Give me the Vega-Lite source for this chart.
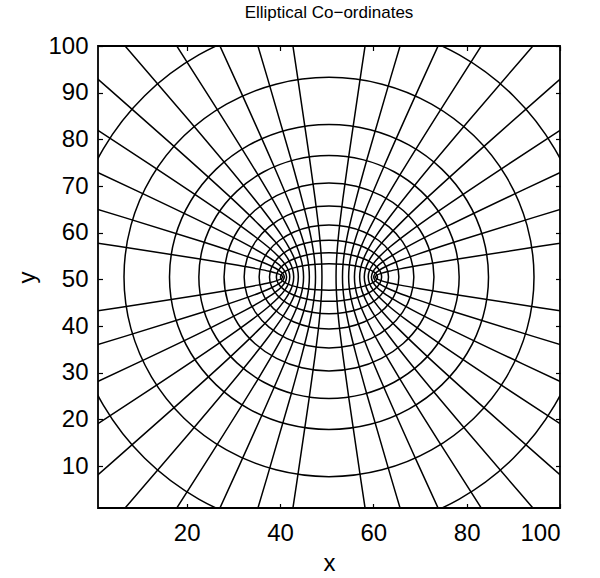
{
"$schema":"https://vega.github.io/schema/vega-lite/v6.json",
"width":462,"height":462,
"autosize":{"type":"none"},
"padding":{"left":98,"top":46,"right":40,"bottom":70},
"background":"white",
"title":{"text":"Elliptical Co−ordinates","font":"Liberation Sans","fontSize":17,"fontWeight":"normal","color":"black","anchor":"middle","frame":"group","baseline":"alphabetic","offset":10,"dy":11},
"config":{"view":{"stroke":"black","strokeWidth":1.8},"font":"Liberation Sans",
"axis":{"labelFont":"Liberation Sans","titleFont":"Liberation Sans","labelColor":"black","titleColor":"black","tickColor":"black","tickWidth":1.2,"grid":false,"domain":false,"labelFontSize":24,"titleFontSize":24,"titleFontWeight":"normal","tickSize":-4.5}},
"datasets":{
"hyp":[
{"h":"L1","o":-8,"x":-31.12,"y":38.39},{"h":"L1","o":-7,"x":5.32,"y":43.91},{"h":"L1","o":-6,"x":22.53,"y":46.59},{"h":"L1","o":-5,"x":31.01,"y":47.99},{"h":"L1","o":-4,"x":35.24,"y":48.76},{"h":"L1","o":-3,"x":37.7,"y":49.28},{"h":"L1","o":-2,"x":39.35,"y":49.73},{"h":"L1","o":-1,"x":40.3,"y":50.13},{"h":"L1","o":0,"x":40.61,"y":50.5},{"h":"L1","o":1,"x":40.3,"y":50.87},{"h":"L1","o":2,"x":39.35,"y":51.27},{"h":"L1","o":3,"x":37.7,"y":51.72},{"h":"L1","o":4,"x":35.24,"y":52.24},{"h":"L1","o":5,"x":31.01,"y":53.01},{"h":"L1","o":6,"x":22.53,"y":54.41},{"h":"L1","o":7,"x":5.32,"y":57.09},{"h":"L1","o":8,"x":-31.12,"y":62.61},
{"h":"R1","o":-8,"x":132.12,"y":38.39},{"h":"R1","o":-7,"x":95.68,"y":43.91},{"h":"R1","o":-6,"x":78.47,"y":46.59},{"h":"R1","o":-5,"x":69.99,"y":47.99},{"h":"R1","o":-4,"x":65.76,"y":48.76},{"h":"R1","o":-3,"x":63.3,"y":49.28},{"h":"R1","o":-2,"x":61.65,"y":49.73},{"h":"R1","o":-1,"x":60.7,"y":50.13},{"h":"R1","o":0,"x":60.39,"y":50.5},{"h":"R1","o":1,"x":60.7,"y":50.87},{"h":"R1","o":2,"x":61.65,"y":51.27},{"h":"R1","o":3,"x":63.3,"y":51.72},{"h":"R1","o":4,"x":65.76,"y":52.24},{"h":"R1","o":5,"x":69.99,"y":53.01},{"h":"R1","o":6,"x":78.47,"y":54.41},{"h":"R1","o":7,"x":95.68,"y":57.09},{"h":"R1","o":8,"x":132.12,"y":62.61},
{"h":"L2","o":-8,"x":-28.59,"y":27.1},{"h":"L2","o":-7,"x":6.72,"y":37.77},{"h":"L2","o":-6,"x":23.4,"y":42.94},{"h":"L2","o":-5,"x":31.61,"y":45.65},{"h":"L2","o":-4,"x":35.71,"y":47.14},{"h":"L2","o":-3,"x":38.09,"y":48.15},{"h":"L2","o":-2,"x":39.69,"y":49.01},{"h":"L2","o":-1,"x":40.62,"y":49.78},{"h":"L2","o":0,"x":40.92,"y":50.5},{"h":"L2","o":1,"x":40.62,"y":51.22},{"h":"L2","o":2,"x":39.69,"y":51.99},{"h":"L2","o":3,"x":38.09,"y":52.85},{"h":"L2","o":4,"x":35.71,"y":53.86},{"h":"L2","o":5,"x":31.61,"y":55.35},{"h":"L2","o":6,"x":23.4,"y":58.06},{"h":"L2","o":7,"x":6.72,"y":63.23},{"h":"L2","o":8,"x":-28.59,"y":73.9},
{"h":"R2","o":-8,"x":129.59,"y":27.1},{"h":"R2","o":-7,"x":94.28,"y":37.77},{"h":"R2","o":-6,"x":77.6,"y":42.94},{"h":"R2","o":-5,"x":69.39,"y":45.65},{"h":"R2","o":-4,"x":65.29,"y":47.14},{"h":"R2","o":-3,"x":62.91,"y":48.15},{"h":"R2","o":-2,"x":61.31,"y":49.01},{"h":"R2","o":-1,"x":60.38,"y":49.78},{"h":"R2","o":0,"x":60.08,"y":50.5},{"h":"R2","o":1,"x":60.38,"y":51.22},{"h":"R2","o":2,"x":61.31,"y":51.99},{"h":"R2","o":3,"x":62.91,"y":52.85},{"h":"R2","o":4,"x":65.29,"y":53.86},{"h":"R2","o":5,"x":69.39,"y":55.35},{"h":"R2","o":6,"x":77.6,"y":58.06},{"h":"R2","o":7,"x":94.28,"y":63.23},{"h":"R2","o":8,"x":129.59,"y":73.9},
{"h":"L3","o":-8,"x":-24.48,"y":16.27},{"h":"L3","o":-7,"x":9.0,"y":31.88},{"h":"L3","o":-6,"x":24.8,"y":39.45},{"h":"L3","o":-5,"x":32.59,"y":43.4},{"h":"L3","o":-4,"x":36.48,"y":45.59},{"h":"L3","o":-3,"x":38.74,"y":47.06},{"h":"L3","o":-2,"x":40.26,"y":48.32},{"h":"L3","o":-1,"x":41.13,"y":49.44},{"h":"L3","o":0,"x":41.41,"y":50.5},{"h":"L3","o":1,"x":41.13,"y":51.56},{"h":"L3","o":2,"x":40.26,"y":52.68},{"h":"L3","o":3,"x":38.74,"y":53.94},{"h":"L3","o":4,"x":36.48,"y":55.41},{"h":"L3","o":5,"x":32.59,"y":57.6},{"h":"L3","o":6,"x":24.8,"y":61.55},{"h":"L3","o":7,"x":9.0,"y":69.12},{"h":"L3","o":8,"x":-24.48,"y":84.73},
{"h":"R3","o":-8,"x":125.48,"y":16.27},{"h":"R3","o":-7,"x":92.0,"y":31.88},{"h":"R3","o":-6,"x":76.2,"y":39.45},{"h":"R3","o":-5,"x":68.41,"y":43.4},{"h":"R3","o":-4,"x":64.52,"y":45.59},{"h":"R3","o":-3,"x":62.26,"y":47.06},{"h":"R3","o":-2,"x":60.74,"y":48.32},{"h":"R3","o":-1,"x":59.87,"y":49.44},{"h":"R3","o":0,"x":59.59,"y":50.5},{"h":"R3","o":1,"x":59.87,"y":51.56},{"h":"R3","o":2,"x":60.74,"y":52.68},{"h":"R3","o":3,"x":62.26,"y":53.94},{"h":"R3","o":4,"x":64.52,"y":55.41},{"h":"R3","o":5,"x":68.41,"y":57.6},{"h":"R3","o":6,"x":76.2,"y":61.55},{"h":"R3","o":7,"x":92.0,"y":69.12},{"h":"R3","o":8,"x":125.48,"y":84.73},
{"h":"L4","o":-8,"x":-18.87,"y":6.12},{"h":"L4","o":-7,"x":12.1,"y":26.36},{"h":"L4","o":-6,"x":26.73,"y":36.17},{"h":"L4","o":-5,"x":33.93,"y":41.3},{"h":"L4","o":-4,"x":37.53,"y":44.13},{"h":"L4","o":-3,"x":39.62,"y":46.05},{"h":"L4","o":-2,"x":41.02,"y":47.68},{"h":"L4","o":-1,"x":41.83,"y":49.13},{"h":"L4","o":0,"x":42.09,"y":50.5},{"h":"L4","o":1,"x":41.83,"y":51.87},{"h":"L4","o":2,"x":41.02,"y":53.32},{"h":"L4","o":3,"x":39.62,"y":54.95},{"h":"L4","o":4,"x":37.53,"y":56.87},{"h":"L4","o":5,"x":33.93,"y":59.7},{"h":"L4","o":6,"x":26.73,"y":64.83},{"h":"L4","o":7,"x":12.1,"y":74.64},{"h":"L4","o":8,"x":-18.87,"y":94.88},
{"h":"R4","o":-8,"x":119.87,"y":6.12},{"h":"R4","o":-7,"x":88.9,"y":26.36},{"h":"R4","o":-6,"x":74.27,"y":36.17},{"h":"R4","o":-5,"x":67.07,"y":41.3},{"h":"R4","o":-4,"x":63.47,"y":44.13},{"h":"R4","o":-3,"x":61.38,"y":46.05},{"h":"R4","o":-2,"x":59.98,"y":47.68},{"h":"R4","o":-1,"x":59.17,"y":49.13},{"h":"R4","o":0,"x":58.91,"y":50.5},{"h":"R4","o":1,"x":59.17,"y":51.87},{"h":"R4","o":2,"x":59.98,"y":53.32},{"h":"R4","o":3,"x":61.38,"y":54.95},{"h":"R4","o":4,"x":63.47,"y":56.87},{"h":"R4","o":5,"x":67.07,"y":59.7},{"h":"R4","o":6,"x":74.27,"y":64.83},{"h":"R4","o":7,"x":88.9,"y":74.64},{"h":"R4","o":8,"x":119.87,"y":94.88},
{"h":"L5","o":-8,"x":-11.88,"y":-3.14},{"h":"L5","o":-7,"x":15.97,"y":21.32},{"h":"L5","o":-6,"x":29.12,"y":33.18},{"h":"L5","o":-5,"x":35.6,"y":39.38},{"h":"L5","o":-4,"x":38.84,"y":42.81},{"h":"L5","o":-3,"x":40.71,"y":45.12},{"h":"L5","o":-2,"x":41.98,"y":47.09},{"h":"L5","o":-1,"x":42.7,"y":48.85},{"h":"L5","o":0,"x":42.94,"y":50.5},{"h":"L5","o":1,"x":42.7,"y":52.15},{"h":"L5","o":2,"x":41.98,"y":53.91},{"h":"L5","o":3,"x":40.71,"y":55.88},{"h":"L5","o":4,"x":38.84,"y":58.19},{"h":"L5","o":5,"x":35.6,"y":61.62},{"h":"L5","o":6,"x":29.12,"y":67.82},{"h":"L5","o":7,"x":15.97,"y":79.68},{"h":"L5","o":8,"x":-11.88,"y":104.14},
{"h":"R5","o":-8,"x":112.88,"y":-3.14},{"h":"R5","o":-7,"x":85.03,"y":21.32},{"h":"R5","o":-6,"x":71.88,"y":33.18},{"h":"R5","o":-5,"x":65.4,"y":39.38},{"h":"R5","o":-4,"x":62.16,"y":42.81},{"h":"R5","o":-3,"x":60.29,"y":45.12},{"h":"R5","o":-2,"x":59.02,"y":47.09},{"h":"R5","o":-1,"x":58.3,"y":48.85},{"h":"R5","o":0,"x":58.06,"y":50.5},{"h":"R5","o":1,"x":58.3,"y":52.15},{"h":"R5","o":2,"x":59.02,"y":53.91},{"h":"R5","o":3,"x":60.29,"y":55.88},{"h":"R5","o":4,"x":62.16,"y":58.19},{"h":"R5","o":5,"x":65.4,"y":61.62},{"h":"R5","o":6,"x":71.88,"y":67.82},{"h":"R5","o":7,"x":85.03,"y":79.68},{"h":"R5","o":8,"x":112.88,"y":104.14},
{"h":"L6","o":-8,"x":-3.75,"y":-11.23},{"h":"L6","o":-7,"x":20.47,"y":16.91},{"h":"L6","o":-6,"x":31.91,"y":30.56},{"h":"L6","o":-5,"x":37.54,"y":37.7},{"h":"L6","o":-4,"x":40.36,"y":41.64},{"h":"L6","o":-3,"x":41.99,"y":44.3},{"h":"L6","o":-2,"x":43.09,"y":46.57},{"h":"L6","o":-1,"x":43.72,"y":48.6},{"h":"L6","o":0,"x":43.93,"y":50.5},{"h":"L6","o":1,"x":43.72,"y":52.4},{"h":"L6","o":2,"x":43.09,"y":54.43},{"h":"L6","o":3,"x":41.99,"y":56.7},{"h":"L6","o":4,"x":40.36,"y":59.36},{"h":"L6","o":5,"x":37.54,"y":63.3},{"h":"L6","o":6,"x":31.91,"y":70.44},{"h":"L6","o":7,"x":20.47,"y":84.09},{"h":"L6","o":8,"x":-3.75,"y":112.23},
{"h":"R6","o":-8,"x":104.75,"y":-11.23},{"h":"R6","o":-7,"x":80.53,"y":16.91},{"h":"R6","o":-6,"x":69.09,"y":30.56},{"h":"R6","o":-5,"x":63.46,"y":37.7},{"h":"R6","o":-4,"x":60.64,"y":41.64},{"h":"R6","o":-3,"x":59.01,"y":44.3},{"h":"R6","o":-2,"x":57.91,"y":46.57},{"h":"R6","o":-1,"x":57.28,"y":48.6},{"h":"R6","o":0,"x":57.07,"y":50.5},{"h":"R6","o":1,"x":57.28,"y":52.4},{"h":"R6","o":2,"x":57.91,"y":54.43},{"h":"R6","o":3,"x":59.01,"y":56.7},{"h":"R6","o":4,"x":60.64,"y":59.36},{"h":"R6","o":5,"x":63.46,"y":63.3},{"h":"R6","o":6,"x":69.09,"y":70.44},{"h":"R6","o":7,"x":80.53,"y":84.09},{"h":"R6","o":8,"x":104.75,"y":112.23},
{"h":"L7","o":-8,"x":5.55,"y":-18.2},{"h":"L7","o":-7,"x":25.62,"y":13.12},{"h":"L7","o":-6,"x":35.1,"y":28.31},{"h":"L7","o":-5,"x":39.77,"y":36.26},{"h":"L7","o":-4,"x":42.1,"y":40.64},{"h":"L7","o":-3,"x":43.45,"y":43.6},{"h":"L7","o":-2,"x":44.36,"y":46.13},{"h":"L7","o":-1,"x":44.88,"y":48.38},{"h":"L7","o":0,"x":45.05,"y":50.5},{"h":"L7","o":1,"x":44.88,"y":52.62},{"h":"L7","o":2,"x":44.36,"y":54.87},{"h":"L7","o":3,"x":43.45,"y":57.4},{"h":"L7","o":4,"x":42.1,"y":60.36},{"h":"L7","o":5,"x":39.77,"y":64.74},{"h":"L7","o":6,"x":35.1,"y":72.69},{"h":"L7","o":7,"x":25.62,"y":87.88},{"h":"L7","o":8,"x":5.55,"y":119.2},
{"h":"R7","o":-8,"x":95.45,"y":-18.2},{"h":"R7","o":-7,"x":75.38,"y":13.12},{"h":"R7","o":-6,"x":65.9,"y":28.31},{"h":"R7","o":-5,"x":61.23,"y":36.26},{"h":"R7","o":-4,"x":58.9,"y":40.64},{"h":"R7","o":-3,"x":57.55,"y":43.6},{"h":"R7","o":-2,"x":56.64,"y":46.13},{"h":"R7","o":-1,"x":56.12,"y":48.38},{"h":"R7","o":0,"x":55.95,"y":50.5},{"h":"R7","o":1,"x":56.12,"y":52.62},{"h":"R7","o":2,"x":56.64,"y":54.87},{"h":"R7","o":3,"x":57.55,"y":57.4},{"h":"R7","o":4,"x":58.9,"y":60.36},{"h":"R7","o":5,"x":61.23,"y":64.74},{"h":"R7","o":6,"x":65.9,"y":72.69},{"h":"R7","o":7,"x":75.38,"y":87.88},{"h":"R7","o":8,"x":95.45,"y":119.2},
{"h":"L8","o":-8,"x":15.75,"y":-23.8},{"h":"L8","o":-7,"x":31.27,"y":10.07},{"h":"L8","o":-6,"x":38.59,"y":26.5},{"h":"L8","o":-5,"x":42.2,"y":35.09},{"h":"L8","o":-4,"x":44.0,"y":39.84},{"h":"L8","o":-3,"x":45.05,"y":43.04},{"h":"L8","o":-2,"x":45.75,"y":45.77},{"h":"L8","o":-1,"x":46.16,"y":48.21},{"h":"L8","o":0,"x":46.29,"y":50.5},{"h":"L8","o":1,"x":46.16,"y":52.79},{"h":"L8","o":2,"x":45.75,"y":55.23},{"h":"L8","o":3,"x":45.05,"y":57.96},{"h":"L8","o":4,"x":44.0,"y":61.16},{"h":"L8","o":5,"x":42.2,"y":65.91},{"h":"L8","o":6,"x":38.59,"y":74.5},{"h":"L8","o":7,"x":31.27,"y":90.93},{"h":"L8","o":8,"x":15.75,"y":124.8},
{"h":"R8","o":-8,"x":85.25,"y":-23.8},{"h":"R8","o":-7,"x":69.73,"y":10.07},{"h":"R8","o":-6,"x":62.41,"y":26.5},{"h":"R8","o":-5,"x":58.8,"y":35.09},{"h":"R8","o":-4,"x":57.0,"y":39.84},{"h":"R8","o":-3,"x":55.95,"y":43.04},{"h":"R8","o":-2,"x":55.25,"y":45.77},{"h":"R8","o":-1,"x":54.84,"y":48.21},{"h":"R8","o":0,"x":54.71,"y":50.5},{"h":"R8","o":1,"x":54.84,"y":52.79},{"h":"R8","o":2,"x":55.25,"y":55.23},{"h":"R8","o":3,"x":55.95,"y":57.96},{"h":"R8","o":4,"x":57.0,"y":61.16},{"h":"R8","o":5,"x":58.8,"y":65.91},{"h":"R8","o":6,"x":62.41,"y":74.5},{"h":"R8","o":7,"x":69.73,"y":90.93},{"h":"R8","o":8,"x":85.25,"y":124.8},
{"h":"L9","o":-8,"x":26.65,"y":-27.92},{"h":"L9","o":-7,"x":37.3,"y":7.83},{"h":"L9","o":-6,"x":42.33,"y":25.17},{"h":"L9","o":-5,"x":44.8,"y":34.24},{"h":"L9","o":-4,"x":46.04,"y":39.25},{"h":"L9","o":-3,"x":46.76,"y":42.63},{"h":"L9","o":-2,"x":47.24,"y":45.51},{"h":"L9","o":-1,"x":47.52,"y":48.08},{"h":"L9","o":0,"x":47.61,"y":50.5},{"h":"L9","o":1,"x":47.52,"y":52.92},{"h":"L9","o":2,"x":47.24,"y":55.49},{"h":"L9","o":3,"x":46.76,"y":58.37},{"h":"L9","o":4,"x":46.04,"y":61.75},{"h":"L9","o":5,"x":44.8,"y":66.76},{"h":"L9","o":6,"x":42.33,"y":75.83},{"h":"L9","o":7,"x":37.3,"y":93.17},{"h":"L9","o":8,"x":26.65,"y":128.92},
{"h":"R9","o":-8,"x":74.35,"y":-27.92},{"h":"R9","o":-7,"x":63.7,"y":7.83},{"h":"R9","o":-6,"x":58.67,"y":25.17},{"h":"R9","o":-5,"x":56.2,"y":34.24},{"h":"R9","o":-4,"x":54.96,"y":39.25},{"h":"R9","o":-3,"x":54.24,"y":42.63},{"h":"R9","o":-2,"x":53.76,"y":45.51},{"h":"R9","o":-1,"x":53.48,"y":48.08},{"h":"R9","o":0,"x":53.39,"y":50.5},{"h":"R9","o":1,"x":53.48,"y":52.92},{"h":"R9","o":2,"x":53.76,"y":55.49},{"h":"R9","o":3,"x":54.24,"y":58.37},{"h":"R9","o":4,"x":54.96,"y":61.75},{"h":"R9","o":5,"x":56.2,"y":66.76},{"h":"R9","o":6,"x":58.67,"y":75.83},{"h":"R9","o":7,"x":63.7,"y":93.17},{"h":"R9","o":8,"x":74.35,"y":128.92},
{"h":"L10","o":-8,"x":38.02,"y":-30.48},{"h":"L10","o":-7,"x":43.59,"y":6.44},{"h":"L10","o":-6,"x":46.22,"y":24.35},{"h":"L10","o":-5,"x":47.52,"y":33.71},{"h":"L10","o":-4,"x":48.17,"y":38.88},{"h":"L10","o":-3,"x":48.54,"y":42.37},{"h":"L10","o":-2,"x":48.79,"y":45.35},{"h":"L10","o":-1,"x":48.94,"y":48.0},{"h":"L10","o":0,"x":48.99,"y":50.5},{"h":"L10","o":1,"x":48.94,"y":53.0},{"h":"L10","o":2,"x":48.79,"y":55.65},{"h":"L10","o":3,"x":48.54,"y":58.63},{"h":"L10","o":4,"x":48.17,"y":62.12},{"h":"L10","o":5,"x":47.52,"y":67.29},{"h":"L10","o":6,"x":46.22,"y":76.65},{"h":"L10","o":7,"x":43.59,"y":94.56},{"h":"L10","o":8,"x":38.02,"y":131.48},
{"h":"R10","o":-8,"x":62.98,"y":-30.48},{"h":"R10","o":-7,"x":57.41,"y":6.44},{"h":"R10","o":-6,"x":54.78,"y":24.35},{"h":"R10","o":-5,"x":53.48,"y":33.71},{"h":"R10","o":-4,"x":52.83,"y":38.88},{"h":"R10","o":-3,"x":52.46,"y":42.37},{"h":"R10","o":-2,"x":52.21,"y":45.35},{"h":"R10","o":-1,"x":52.06,"y":48.0},{"h":"R10","o":0,"x":52.01,"y":50.5},{"h":"R10","o":1,"x":52.06,"y":53.0},{"h":"R10","o":2,"x":52.21,"y":55.65},{"h":"R10","o":3,"x":52.46,"y":58.63},{"h":"R10","o":4,"x":52.83,"y":62.12},{"h":"R10","o":5,"x":53.48,"y":67.29},{"h":"R10","o":6,"x":54.78,"y":76.65},{"h":"R10","o":7,"x":57.41,"y":94.56},{"h":"R10","o":8,"x":62.98,"y":131.48}
],
"ell":[
{"e":1,"t":0,"x":60.9,"y":50.5},{"e":1,"t":1,"x":60.54,"y":51.23},{"e":1,"t":2,"x":59.5,"y":51.92},{"e":1,"t":3,"x":57.85,"y":52.51},{"e":1,"t":4,"x":55.7,"y":52.96},{"e":1,"t":5,"x":53.19,"y":53.24},{"e":1,"t":6,"x":50.5,"y":53.34},{"e":1,"t":7,"x":47.81,"y":53.24},{"e":1,"t":8,"x":45.3,"y":52.96},{"e":1,"t":9,"x":43.15,"y":52.51},{"e":1,"t":10,"x":41.5,"y":51.92},{"e":1,"t":11,"x":40.46,"y":51.23},{"e":1,"t":12,"x":40.1,"y":50.5},{"e":1,"t":13,"x":40.46,"y":49.77},{"e":1,"t":14,"x":41.5,"y":49.08},{"e":1,"t":15,"x":43.15,"y":48.49},{"e":1,"t":16,"x":45.3,"y":48.04},{"e":1,"t":17,"x":47.81,"y":47.76},{"e":1,"t":18,"x":50.5,"y":47.66},{"e":1,"t":19,"x":53.19,"y":47.76},{"e":1,"t":20,"x":55.7,"y":48.04},{"e":1,"t":21,"x":57.85,"y":48.49},{"e":1,"t":22,"x":59.5,"y":49.08},{"e":1,"t":23,"x":60.54,"y":49.77},
{"e":2,"t":0,"x":61.78,"y":50.5},{"e":2,"t":1,"x":61.39,"y":51.85},{"e":2,"t":2,"x":60.27,"y":53.11},{"e":2,"t":3,"x":58.47,"y":54.19},{"e":2,"t":4,"x":56.14,"y":55.01},{"e":2,"t":5,"x":53.42,"y":55.53},{"e":2,"t":6,"x":50.5,"y":55.71},{"e":2,"t":7,"x":47.58,"y":55.53},{"e":2,"t":8,"x":44.86,"y":55.01},{"e":2,"t":9,"x":42.53,"y":54.19},{"e":2,"t":10,"x":40.73,"y":53.11},{"e":2,"t":11,"x":39.61,"y":51.85},{"e":2,"t":12,"x":39.22,"y":50.5},{"e":2,"t":13,"x":39.61,"y":49.15},{"e":2,"t":14,"x":40.73,"y":47.89},{"e":2,"t":15,"x":42.53,"y":46.81},{"e":2,"t":16,"x":44.86,"y":45.99},{"e":2,"t":17,"x":47.58,"y":45.47},{"e":2,"t":18,"x":50.5,"y":45.29},{"e":2,"t":19,"x":53.42,"y":45.47},{"e":2,"t":20,"x":56.14,"y":45.99},{"e":2,"t":21,"x":58.47,"y":46.81},{"e":2,"t":22,"x":60.27,"y":47.89},{"e":2,"t":23,"x":61.39,"y":49.15},
{"e":3,"t":0,"x":63.25,"y":50.5},{"e":3,"t":1,"x":62.81,"y":52.55},{"e":3,"t":2,"x":61.54,"y":54.45},{"e":3,"t":3,"x":59.51,"y":56.09},{"e":3,"t":4,"x":56.87,"y":57.34},{"e":3,"t":5,"x":53.8,"y":58.13},{"e":3,"t":6,"x":50.5,"y":58.4},{"e":3,"t":7,"x":47.2,"y":58.13},{"e":3,"t":8,"x":44.13,"y":57.34},{"e":3,"t":9,"x":41.49,"y":56.09},{"e":3,"t":10,"x":39.46,"y":54.45},{"e":3,"t":11,"x":38.19,"y":52.55},{"e":3,"t":12,"x":37.75,"y":50.5},{"e":3,"t":13,"x":38.19,"y":48.45},{"e":3,"t":14,"x":39.46,"y":46.55},{"e":3,"t":15,"x":41.49,"y":44.91},{"e":3,"t":16,"x":44.13,"y":43.66},{"e":3,"t":17,"x":47.2,"y":42.87},{"e":3,"t":18,"x":50.5,"y":42.6},{"e":3,"t":19,"x":53.8,"y":42.87},{"e":3,"t":20,"x":56.87,"y":43.66},{"e":3,"t":21,"x":59.51,"y":44.91},{"e":3,"t":22,"x":61.54,"y":46.55},{"e":3,"t":23,"x":62.81,"y":48.45},
{"e":4,"t":0,"x":65.47,"y":50.5},{"e":4,"t":1,"x":64.96,"y":53.38},{"e":4,"t":2,"x":63.47,"y":56.07},{"e":4,"t":3,"x":61.09,"y":58.38},{"e":4,"t":4,"x":57.99,"y":60.15},{"e":4,"t":5,"x":54.38,"y":61.26},{"e":4,"t":6,"x":50.5,"y":61.64},{"e":4,"t":7,"x":46.62,"y":61.26},{"e":4,"t":8,"x":43.01,"y":60.15},{"e":4,"t":9,"x":39.91,"y":58.38},{"e":4,"t":10,"x":37.53,"y":56.07},{"e":4,"t":11,"x":36.04,"y":53.38},{"e":4,"t":12,"x":35.53,"y":50.5},{"e":4,"t":13,"x":36.04,"y":47.62},{"e":4,"t":14,"x":37.53,"y":44.93},{"e":4,"t":15,"x":39.91,"y":42.62},{"e":4,"t":16,"x":43.01,"y":40.85},{"e":4,"t":17,"x":46.62,"y":39.74},{"e":4,"t":18,"x":50.5,"y":39.36},{"e":4,"t":19,"x":54.38,"y":39.74},{"e":4,"t":20,"x":57.99,"y":40.85},{"e":4,"t":21,"x":61.09,"y":42.62},{"e":4,"t":22,"x":63.47,"y":44.93},{"e":4,"t":23,"x":64.96,"y":47.62},
{"e":5,"t":0,"x":68.68,"y":50.5},{"e":5,"t":1,"x":68.06,"y":54.43},{"e":5,"t":2,"x":66.25,"y":58.09},{"e":5,"t":3,"x":63.36,"y":61.24},{"e":5,"t":4,"x":59.59,"y":63.65},{"e":5,"t":5,"x":55.21,"y":65.17},{"e":5,"t":6,"x":50.5,"y":65.69},{"e":5,"t":7,"x":45.79,"y":65.17},{"e":5,"t":8,"x":41.41,"y":63.65},{"e":5,"t":9,"x":37.64,"y":61.24},{"e":5,"t":10,"x":34.75,"y":58.09},{"e":5,"t":11,"x":32.94,"y":54.43},{"e":5,"t":12,"x":32.32,"y":50.5},{"e":5,"t":13,"x":32.94,"y":46.57},{"e":5,"t":14,"x":34.75,"y":42.91},{"e":5,"t":15,"x":37.64,"y":39.76},{"e":5,"t":16,"x":41.41,"y":37.35},{"e":5,"t":17,"x":45.79,"y":35.83},{"e":5,"t":18,"x":50.5,"y":35.31},{"e":5,"t":19,"x":55.21,"y":35.83},{"e":5,"t":20,"x":59.59,"y":37.35},{"e":5,"t":21,"x":63.36,"y":39.76},{"e":5,"t":22,"x":66.25,"y":42.91},{"e":5,"t":23,"x":68.06,"y":46.57},
{"e":6,"t":0,"x":72.99,"y":50.5},{"e":6,"t":1,"x":72.22,"y":55.71},{"e":6,"t":2,"x":69.98,"y":60.57},{"e":6,"t":3,"x":66.4,"y":64.74},{"e":6,"t":4,"x":61.74,"y":67.94},{"e":6,"t":5,"x":56.32,"y":69.96},{"e":6,"t":6,"x":50.5,"y":70.64},{"e":6,"t":7,"x":44.68,"y":69.96},{"e":6,"t":8,"x":39.26,"y":67.94},{"e":6,"t":9,"x":34.6,"y":64.74},{"e":6,"t":10,"x":31.02,"y":60.57},{"e":6,"t":11,"x":28.78,"y":55.71},{"e":6,"t":12,"x":28.01,"y":50.5},{"e":6,"t":13,"x":28.78,"y":45.29},{"e":6,"t":14,"x":31.02,"y":40.43},{"e":6,"t":15,"x":34.6,"y":36.26},{"e":6,"t":16,"x":39.26,"y":33.06},{"e":6,"t":17,"x":44.68,"y":31.04},{"e":6,"t":18,"x":50.5,"y":30.36},{"e":6,"t":19,"x":56.32,"y":31.04},{"e":6,"t":20,"x":61.74,"y":33.06},{"e":6,"t":21,"x":66.4,"y":36.26},{"e":6,"t":22,"x":69.98,"y":40.43},{"e":6,"t":23,"x":72.22,"y":45.29},
{"e":7,"t":0,"x":78.39,"y":50.5},{"e":7,"t":1,"x":77.44,"y":57.24},{"e":7,"t":2,"x":74.65,"y":63.52},{"e":7,"t":3,"x":70.22,"y":68.91},{"e":7,"t":4,"x":64.45,"y":73.05},{"e":7,"t":5,"x":57.72,"y":75.65},{"e":7,"t":6,"x":50.5,"y":76.54},{"e":7,"t":7,"x":43.28,"y":75.65},{"e":7,"t":8,"x":36.55,"y":73.05},{"e":7,"t":9,"x":30.78,"y":68.91},{"e":7,"t":10,"x":26.35,"y":63.52},{"e":7,"t":11,"x":23.56,"y":57.24},{"e":7,"t":12,"x":22.61,"y":50.5},{"e":7,"t":13,"x":23.56,"y":43.76},{"e":7,"t":14,"x":26.35,"y":37.48},{"e":7,"t":15,"x":30.78,"y":32.09},{"e":7,"t":16,"x":36.55,"y":27.95},{"e":7,"t":17,"x":43.28,"y":25.35},{"e":7,"t":18,"x":50.5,"y":24.46},{"e":7,"t":19,"x":57.72,"y":25.35},{"e":7,"t":20,"x":64.45,"y":27.95},{"e":7,"t":21,"x":70.22,"y":32.09},{"e":7,"t":22,"x":74.65,"y":37.48},{"e":7,"t":23,"x":77.44,"y":43.76},
{"e":8,"t":0,"x":84.68,"y":50.5},{"e":8,"t":1,"x":83.51,"y":58.96},{"e":8,"t":2,"x":80.1,"y":66.84},{"e":8,"t":3,"x":74.67,"y":73.61},{"e":8,"t":4,"x":67.59,"y":78.8},{"e":8,"t":5,"x":59.35,"y":82.07},{"e":8,"t":6,"x":50.5,"y":83.18},{"e":8,"t":7,"x":41.65,"y":82.07},{"e":8,"t":8,"x":33.41,"y":78.8},{"e":8,"t":9,"x":26.33,"y":73.61},{"e":8,"t":10,"x":20.9,"y":66.84},{"e":8,"t":11,"x":17.49,"y":58.96},{"e":8,"t":12,"x":16.32,"y":50.5},{"e":8,"t":13,"x":17.49,"y":42.04},{"e":8,"t":14,"x":20.9,"y":34.16},{"e":8,"t":15,"x":26.33,"y":27.39},{"e":8,"t":16,"x":33.41,"y":22.2},{"e":8,"t":17,"x":41.65,"y":18.93},{"e":8,"t":18,"x":50.5,"y":17.82},{"e":8,"t":19,"x":59.35,"y":18.93},{"e":8,"t":20,"x":67.59,"y":22.2},{"e":8,"t":21,"x":74.67,"y":27.39},{"e":8,"t":22,"x":80.1,"y":34.16},{"e":8,"t":23,"x":83.51,"y":42.04},
{"e":9,"t":0,"x":94.43,"y":50.5},{"e":9,"t":1,"x":92.94,"y":61.57},{"e":9,"t":2,"x":88.55,"y":71.89},{"e":9,"t":3,"x":81.57,"y":80.75},{"e":9,"t":4,"x":72.47,"y":87.55},{"e":9,"t":5,"x":61.87,"y":91.82},{"e":9,"t":6,"x":50.5,"y":93.28},{"e":9,"t":7,"x":39.13,"y":91.82},{"e":9,"t":8,"x":28.53,"y":87.55},{"e":9,"t":9,"x":19.43,"y":80.75},{"e":9,"t":10,"x":12.45,"y":71.89},{"e":9,"t":11,"x":8.06,"y":61.57},{"e":9,"t":12,"x":6.57,"y":50.5},{"e":9,"t":13,"x":8.06,"y":39.43},{"e":9,"t":14,"x":12.45,"y":29.11},{"e":9,"t":15,"x":19.43,"y":20.25},{"e":9,"t":16,"x":28.53,"y":13.45},{"e":9,"t":17,"x":39.13,"y":9.18},{"e":9,"t":18,"x":50.5,"y":7.72},{"e":9,"t":19,"x":61.87,"y":9.18},{"e":9,"t":20,"x":72.47,"y":13.45},{"e":9,"t":21,"x":81.57,"y":20.25},{"e":9,"t":22,"x":88.55,"y":29.11},{"e":9,"t":23,"x":92.94,"y":39.43},
{"e":10,"t":0,"x":106.34,"y":50.5},{"e":10,"t":1,"x":104.44,"y":64.72},{"e":10,"t":2,"x":98.86,"y":77.97},{"e":10,"t":3,"x":89.99,"y":89.35},{"e":10,"t":4,"x":78.42,"y":98.08},{"e":10,"t":5,"x":64.95,"y":103.57},{"e":10,"t":6,"x":50.5,"y":105.44},{"e":10,"t":7,"x":36.05,"y":103.57},{"e":10,"t":8,"x":22.58,"y":98.08},{"e":10,"t":9,"x":11.01,"y":89.35},{"e":10,"t":10,"x":2.14,"y":77.97},{"e":10,"t":11,"x":-3.44,"y":64.72},{"e":10,"t":12,"x":-5.34,"y":50.5},{"e":10,"t":13,"x":-3.44,"y":36.28},{"e":10,"t":14,"x":2.14,"y":23.03},{"e":10,"t":15,"x":11.01,"y":11.65},{"e":10,"t":16,"x":22.58,"y":2.92},{"e":10,"t":17,"x":36.05,"y":-2.57},{"e":10,"t":18,"x":50.5,"y":-4.44},{"e":10,"t":19,"x":64.95,"y":-2.57},{"e":10,"t":20,"x":78.42,"y":2.92},{"e":10,"t":21,"x":89.99,"y":11.65},{"e":10,"t":22,"x":98.86,"y":23.03},{"e":10,"t":23,"x":104.44,"y":36.28}
]},
"layer":[
{"data":{"name":"hyp"},
"mark":{"type":"line","interpolate":"catmull-rom","clip":true,"color":"black","strokeWidth":1.5},
"encoding":{
"x":{"field":"x","type":"quantitative","scale":{"domain":[1,100],"nice":false,"zero":false},"axis":{"orient":"bottom","values":[20,40,60,80,100],"title":"x","labelPadding":17.5,"titlePadding":6}},
"y":{"field":"y","type":"quantitative","scale":{"domain":[1,100],"nice":false,"zero":false},"axis":{"orient":"left","values":[10,20,30,40,50,60,70,80,90,100],"title":"y","labelPadding":14.5,"titlePadding":8}},
"detail":{"field":"h"},
"order":{"field":"o"}}},
{"data":{"name":"ell"},
"mark":{"type":"line","interpolate":"cardinal-closed","clip":true,"color":"black","strokeWidth":1.5},
"encoding":{
"x":{"field":"x","type":"quantitative","scale":{"domain":[1,100],"nice":false,"zero":false},"axis":{"orient":"top","values":[20,40,60,80,100],"labels":false,"title":null}},
"y":{"field":"y","type":"quantitative","scale":{"domain":[1,100],"nice":false,"zero":false},"axis":{"orient":"right","values":[10,20,30,40,50,60,70,80,90,100],"labels":false,"title":null}},
"detail":{"field":"e"},
"order":{"field":"t"}}}
],
"resolve":{"axis":{"x":"independent","y":"independent"}}
}
